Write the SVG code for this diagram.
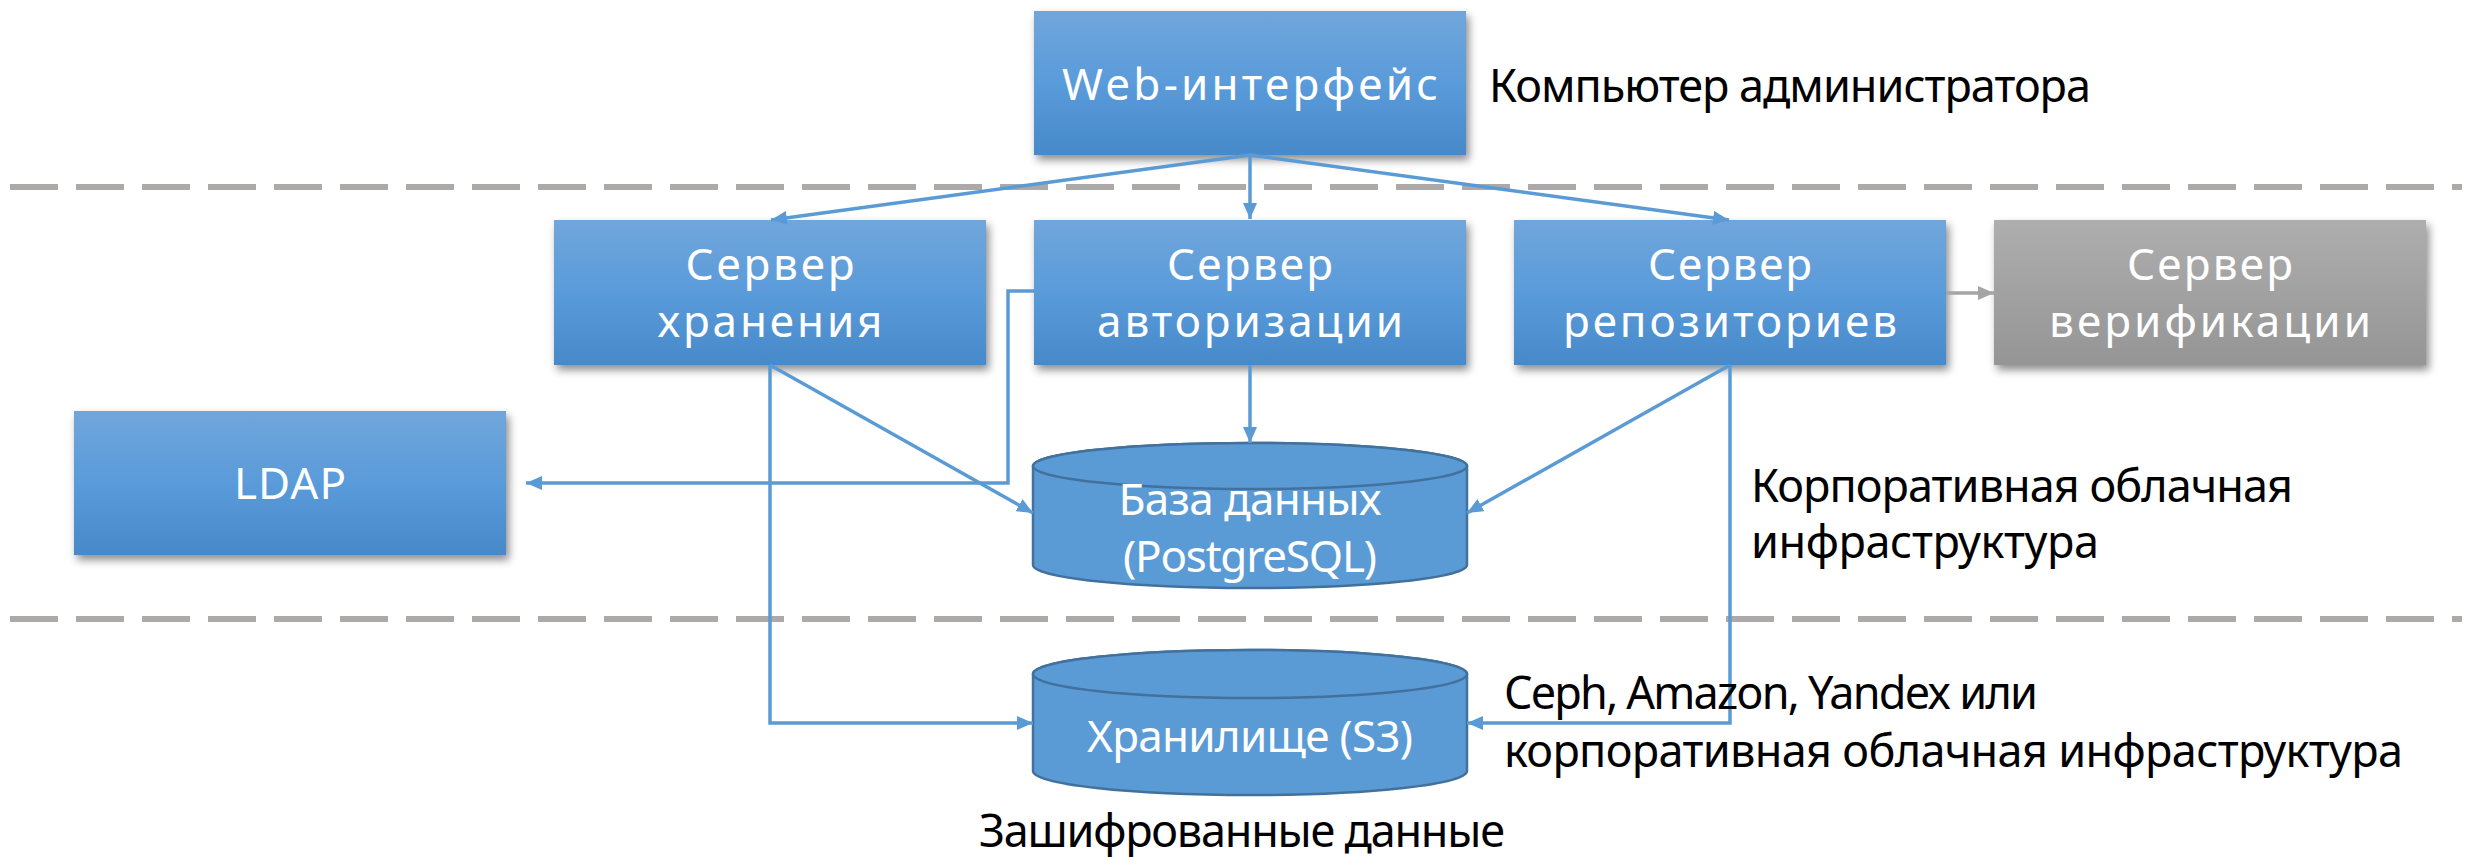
<svg xmlns="http://www.w3.org/2000/svg" width="2465" height="857" viewBox="0 0 2465 857">
<defs>
<style>
.box{filter:url(#sh)}
.blue{fill:url(#gBlue)}
.grey{fill:url(#gGrey)}
.bt{font-family:"Noto Sans","Open Sans","DejaVu Sans",sans-serif;font-size:44px;fill:#fff;text-anchor:middle}
.ct{font-family:"Noto Sans","Open Sans","DejaVu Sans",sans-serif;font-size:44px;fill:#fff;text-anchor:middle}
.lbl{font-family:"Noto Sans","Open Sans","DejaVu Sans",sans-serif;font-size:45px;fill:#000}
.cyl{fill:#5B9BD5;stroke:#41719C;stroke-width:2.5}
.sep{stroke:#ADA9A8;stroke-width:6;stroke-dasharray:48 18;fill:none}
.con{stroke:#5B9BD5;stroke-width:3.5;fill:none;marker-end:url(#ah)}
.cong{stroke:#A5A5A5;stroke-width:3.5;fill:none;marker-end:url(#ahg)}
</style>
<linearGradient id="gBlue" x1="0" y1="0" x2="0" y2="1">
<stop offset="0" stop-color="#71A6DB"/>
<stop offset="0.5" stop-color="#5A9BDA"/>
<stop offset="1" stop-color="#4789C9"/>
</linearGradient>
<linearGradient id="gGrey" x1="0" y1="0" x2="0" y2="1">
<stop offset="0" stop-color="#AEAEAE"/>
<stop offset="1" stop-color="#959595"/>
</linearGradient>
<filter id="sh" x="-10%" y="-10%" width="125%" height="130%">
<feDropShadow dx="3" dy="5" stdDeviation="4" flood-color="#000" flood-opacity="0.45"/>
</filter>
<marker id="ah" viewBox="0 0 16 14" refX="16" refY="7" markerWidth="16" markerHeight="14" markerUnits="userSpaceOnUse" orient="auto">
<path d="M0,0 L16,7 L0,14 z" fill="#5B9BD5"/>
</marker>
<marker id="ahg" viewBox="0 0 16 14" refX="16" refY="7" markerWidth="16" markerHeight="14" markerUnits="userSpaceOnUse" orient="auto">
<path d="M0,0 L16,7 L0,14 z" fill="#A5A5A5"/>
</marker>
</defs>
<rect width="2465" height="857" fill="#fff"/>
<g id="separators">
<line class="sep" x1="10" y1="187" x2="2462" y2="187"/>
<line class="sep" x1="10" y1="619" x2="2462" y2="619"/>
</g>
<g id="web">
<rect class="box blue" x="1034" y="11" width="432" height="144"/>
<text class="bt" x="1250" y="100" textLength="376" lengthAdjust="spacing">Web-интерфейс</text>
</g>
<g id="storage-server">
<rect class="box blue" x="554" y="220" width="432" height="145"/>
<text class="bt" x="770" y="280" textLength="169" lengthAdjust="spacing">Сервер</text>
<text class="bt" x="770" y="337" textLength="225" lengthAdjust="spacing">хранения</text>
</g>
<g id="auth-server">
<rect class="box blue" x="1034" y="220" width="432" height="145"/>
<text class="bt" x="1250" y="280" textLength="166" lengthAdjust="spacing">Сервер</text>
<text class="bt" x="1250" y="337" textLength="306" lengthAdjust="spacing">авторизации</text>
</g>
<g id="repo-server">
<rect class="box blue" x="1514" y="220" width="432" height="145"/>
<text class="bt" x="1730" y="280" textLength="164" lengthAdjust="spacing">Сервер</text>
<text class="bt" x="1730" y="337" textLength="334" lengthAdjust="spacing">репозиториев</text>
</g>
<g id="verify-server">
<rect class="box grey" x="1994" y="220" width="432" height="145"/>
<text class="bt" x="2210" y="280" textLength="166" lengthAdjust="spacing">Сервер</text>
<text class="bt" x="2210" y="337" textLength="322" lengthAdjust="spacing">верификации</text>
</g>
<g id="ldap">
<rect class="box blue" x="74" y="411" width="432" height="144"/>
<text class="bt" x="290" y="499" textLength="112" lengthAdjust="spacing">LDAP</text>
</g>
<g id="db">
<path class="cyl" d="M1033,466 V565 A217,23 0 0 0 1467,565 V466 A217,23 0 0 0 1033,466 Z"/>
<ellipse class="cyl" cx="1250" cy="466" rx="217" ry="23"/>
<text class="ct" x="1250" y="515" textLength="263" lengthAdjust="spacing">База данных</text>
<text class="ct" x="1250" y="572" textLength="254" lengthAdjust="spacing">(PostgreSQL)</text>
</g>
<g id="s3">
<path class="cyl" d="M1033,674 V771 A217,24 0 0 0 1467,771 V674 A217,24 0 0 0 1033,674 Z"/>
<ellipse class="cyl" cx="1250" cy="674" rx="217" ry="24"/>
<text class="ct" x="1250" y="752" textLength="326" lengthAdjust="spacing">Хранилище (S3)</text>
</g>
<g id="connectors">
<path class="con" d="M1250,155 L771,220"/>
<path class="con" d="M1250,155 L1250,219"/>
<path class="con" d="M1250,155 L1729,220"/>
<path class="con" d="M770,365 L1033,513"/>
<path class="con" d="M770,365 V723 H1033"/>
<path class="con" d="M1034,291 H1008 V483 H526"/>
<path class="con" d="M1250,365 V443"/>
<path class="con" d="M1730,365 L1467,513"/>
<path class="con" d="M1730,365 V723 H1467"/>
<path class="cong" d="M1946,293 H1994"/>
</g>
<g id="labels">
<text class="lbl" x="1489" y="102" textLength="602" lengthAdjust="spacing">Компьютер администратора</text>
<text class="lbl" x="1751" y="502" textLength="542" lengthAdjust="spacing">Корпоративная облачная</text>
<text class="lbl" x="1751" y="558" textLength="348" lengthAdjust="spacing">инфраструктура</text>
<text class="lbl" x="1504" y="709" textLength="534" lengthAdjust="spacing">Ceph, Amazon, Yandex или</text>
<text class="lbl" x="1504" y="767" textLength="899" lengthAdjust="spacing">корпоративная облачная инфраструктура</text>
<text class="lbl" x="979" y="847" textLength="526" lengthAdjust="spacing">Зашифрованные данные</text>
</g>
</svg>
